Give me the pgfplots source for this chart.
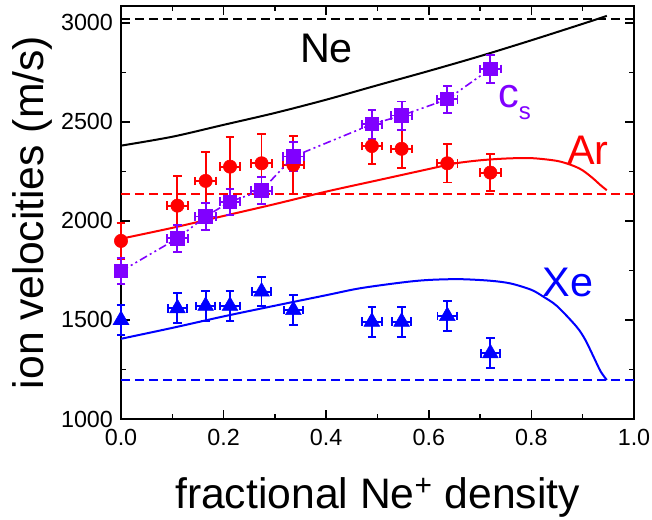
\documentclass[border=0pt]{standalone}
\usepackage{fontspec}
\setmainfont{Liberation Sans}
\usepackage{pgfplots}
\usepackage{pgfplotstable}
\pgfplotsset{compat=1.18}
\definecolor{cviolet}{RGB}{128,0,255}
\definecolor{cred}{RGB}{255,0,0}
\definecolor{cblue}{RGB}{0,0,255}

\pgfplotstableread{
x y ex ey
0 1899 0 92
0.110 2077 0.02 150
0.165 2202 0.02 145
0.2125 2274 0.02 150
0.274 2291 0.02 150
0.336 2283 0.02 145
0.489 2378 0.02 92
0.547 2364 0.02 97
0.636 2291 0.02 97
0.720 2244 0.02 94
}\ardata

\pgfplotstableread{
x y ex ey
0 1746 0 65
0.110 1912 0.02 68
0.165 2022 0.02 68
0.2125 2097 0.02 66
0.274 2153 0.02 68
0.336 2325 0.02 75
0.489 2488 0.02 73
0.547 2532 0.02 71
0.636 2614 0.02 68
0.720 2768 0.02 70
}\csdata

\pgfplotstableread{
x y ex ey
0 1500 0 76
0.110 1559 0.019 76
0.165 1571 0.019 76
0.2125 1571 0.019 76
0.274 1643 0.019 74
0.336 1550 0.019 76
0.489 1491 0.019 76
0.547 1491 0.019 76
0.636 1520 0.019 76
0.720 1332 0.019 76
}\xedata

\begin{document}
\begin{tikzpicture}
\path[use as bounding box] (-90.75pt,-75pt) rectangle (398.25pt,314.25pt);
\begin{axis}[
  at={(0pt,0pt)}, anchor=south west,
  width=384.75pt, height=309.75pt, scale only axis,
  xmin=0, xmax=1, ymin=1000, ymax=3085,
  xtick={0,0.2,0.4,0.6,0.8,1.0},
  ytick={1000,1500,2000,2500,3000},
  minor x tick num=1, minor y tick num=1,
  tick align=inside,
  major tick length=6.75pt, minor tick length=3.75pt,
  every tick/.style={line width=1.1pt, black},
  axis line style={line width=1.5pt},
  clip=false,
  /pgf/number format/assume math mode=true,
  xticklabel style={font=\fontsize{17.5}{17.5}\selectfont, yshift=-4pt,
    /pgf/number format/fixed, /pgf/number format/fixed zerofill,
    /pgf/number format/precision=1},
  yticklabel style={font=\fontsize{17.5}{17.5}\selectfont, xshift=-2.5pt,
    /pgf/number format/1000 sep={}},
  xlabel={fractional Ne\textsuperscript{+} density},
  xlabel style={font=\fontsize{32}{32}\selectfont, at={(axis description cs:0.5,-0.2155)}, anchor=base},
  ylabel={ion velocities (m/s)},
  ylabel style={font=\fontsize{32}{32}\selectfont, at={(axis description cs:-0.152,0.5)}, anchor=base},
]
% dashed reference levels
\addplot[black, line width=1.2pt, dash pattern=on 6.5pt off 4pt] coordinates {(0,3020) (1,3020)};
\addplot[cred, line width=1.2pt, dash pattern=on 6.5pt off 4pt] coordinates {(0,2135) (1,2135)};
\addplot[cblue, line width=1.2pt, dash pattern=on 6.5pt off 4pt] coordinates {(0,1197) (1,1197)};

% model curves
\addplot[black, line width=1.5pt, smooth] coordinates {
(0,2380) (0.1,2425) (0.2,2485) (0.3,2545) (0.4,2612) (0.5,2685) (0.6,2757) (0.7,2832) (0.8,2912) (0.9,2995) (0.947,3035)};
\addplot[cred, line width=1.5pt, smooth] coordinates {
(0,1910) (0.1,1965) (0.2,2025) (0.3,2085) (0.4,2148) (0.5,2205) (0.6,2262) (0.65,2290) (0.7,2306) (0.75,2315) (0.8,2317) (0.85,2303) (0.88,2280) (0.9,2255) (0.92,2215) (0.935,2180) (0.947,2155)};
\addplot[cblue, line width=1.5pt, smooth] coordinates {
(0,1405) (0.1,1460) (0.2,1518) (0.3,1572) (0.4,1625) (0.466,1660) (0.55,1690) (0.6,1702) (0.66,1706) (0.72,1698) (0.76,1684) (0.8,1652) (0.823,1618) (0.85,1570) (0.888,1466) (0.905,1400) (0.921,1315) (0.935,1240) (0.947,1197)};

% Ar data
\addplot[only marks, cred, mark=*, mark size=5pt, mark options={solid, fill=cred},
  error bars/.cd, x dir=both, x explicit, y dir=both, y explicit,
  error bar style={line width=1.4pt, solid, cred},
  error mark options={rotate=90, line width=1.4pt, mark size=3.2pt, solid, cred}]
  table[x=x, y=y, x error=ex, y error=ey] {\ardata};

% cs data
\addplot[cviolet, line width=1.2pt, dash pattern=on 6pt off 2.5pt on 1.5pt off 2.5pt on 1.5pt off 2.5pt,
  mark=square*, mark size=4.8pt, mark options={solid, fill=cviolet},
  error bars/.cd, x dir=both, x explicit, y dir=both, y explicit,
  error bar style={line width=1.4pt, solid, cviolet},
  error mark options={rotate=90, line width=1.4pt, mark size=3.2pt, solid, cviolet}]
  table[x=x, y=y, x error=ex, y error=ey] {\csdata};

% Xe data
\addplot[only marks, cblue, mark=triangle*, mark size=6.8pt, mark options={solid, fill=cblue},
  error bars/.cd, x dir=both, x explicit, y dir=both, y explicit,
  error bar style={line width=1.4pt, solid, cblue},
  error mark options={rotate=90, line width=1.4pt, mark size=3.2pt, solid, cblue}]
  table[x=x, y=y, x error=ex, y error=ey] {\xedata};

% labels
\node[anchor=base, font=\fontsize{31}{31}\selectfont] at (axis cs:0.4006,2798) {Ne};
\node[anchor=base, font=\fontsize{31}{31}\selectfont, text=cred] at (axis cs:0.910,2283) {Ar};
\node[anchor=base, font=\fontsize{31}{31}\selectfont, text=cblue] at (axis cs:0.871,1618) {Xe};
\node[anchor=base west, inner sep=0pt, font=\fontsize{31}{31}\selectfont, text=cviolet] at (axis cs:0.735,2571) {c\raisebox{-9pt}{\fontsize{18}{18}\selectfont s}};
\end{axis}
\end{tikzpicture}
\end{document}
